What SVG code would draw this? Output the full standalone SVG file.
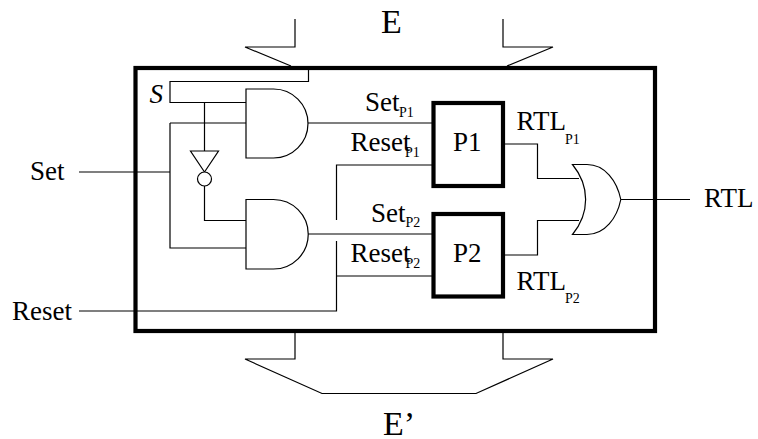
<svg xmlns="http://www.w3.org/2000/svg" width="758" height="439" viewBox="0 0 758 439">
<style>
.w{fill:none;stroke:#000;stroke-width:1.2}
.g{fill:#fff;stroke:#000;stroke-width:1.2}
.b{fill:#fff;stroke:#000;stroke-width:4.2}
text{font-family:"Liberation Serif","Times New Roman",serif;fill:#000;font-size:27px}
.s{font-size:14px}
.e{font-size:34px}
</style>
<rect id="rect-1" width="758" height="439" fill="#fff"/>
<g id="bus-in">
<path class="w" d="M295 19V47H245L291 66"/>
<path class="w" d="M503 19V47H553L507 66"/>
<text class="e" x="381" y="33">E</text>
</g>
<g id="frame"><rect class="b" x="135.500" y="68" width="519.500" height="263" fill="none"/></g>
<g id="bus-out">
<path class="w" d="M295 333V359H245L322 393.500H476L553 359H503V333"/>
<text class="e" x="383" y="435">E’</text>
</g>
<g id="connectors">
<path class="w" d="M308.500 70V81.500H170V102.500H246"/>
<path class="w" d="M170 123H246M79 172H170M170 123V248H246"/>
<path class="w" d="M204.500 102.500V151M204.500 186V220.500H246"/>
<path class="w" d="M308 123H433M308 234H433"/>
<path class="w" d="M336.500 220V165H433"/>
<path class="w" d="M79 311H336.500V241M336.500 276H433"/>
<path class="w" d="M505 144H537.500V178.500H579"/>
<path class="w" d="M505 255H537.500V220.500H579"/>
<path class="w" d="M621 199.500H690"/>
</g>
<g id="inverter">
<path class="g" d="M190.500 151H218.500L204.500 172Z"/>
<circle class="g" cx="204.500" cy="179" r="7"/>
</g>
<g id="and-1"><path class="g" d="M246 89H273.500A34.500 34.500 0 0 1 273.500 158H246Z"/></g>
<g id="and-2"><path class="g" d="M246 199.500H273.500A34.500 34.500 0 0 1 273.500 269H246Z"/></g>
<g id="or"><path class="g" d="M572.500 164.500H587C605 164.500 617 181 620.800 199.500C617 218 605 234.500 587 234.500H572.500C590 213 590 186 572.500 164.500Z"/></g>
<g id="p1">
<rect class="b" x="433.500" y="103" width="69.500" height="83"/>
<text x="453" y="151">P1</text>
</g>
<g id="p2">
<rect class="b" x="433.500" y="214" width="69.500" height="82.500"/>
<text x="453" y="262">P2</text>
</g>
<g id="labels">
<text x="30" y="180">Set</text>
<text x="12" y="320">Reset</text>
<text x="704" y="207">RTL</text>
<text x="149.500" y="103" font-style="italic">S</text>
<text x="365" y="111">Set</text><text class="s" x="399" y="117">P1</text>
<text x="350.500" y="151">Reset</text><text class="s" x="405" y="157">P1</text>
<text x="371" y="222">Set</text><text class="s" x="405.500" y="227">P2</text>
<text x="350.500" y="262">Reset</text><text class="s" x="405.500" y="268">P2</text>
<text x="516.500" y="130">RTL</text><text class="s" x="565" y="144">P1</text>
<text x="516.500" y="290">RTL</text><text class="s" x="565" y="303">P2</text>
</g>
</svg>
